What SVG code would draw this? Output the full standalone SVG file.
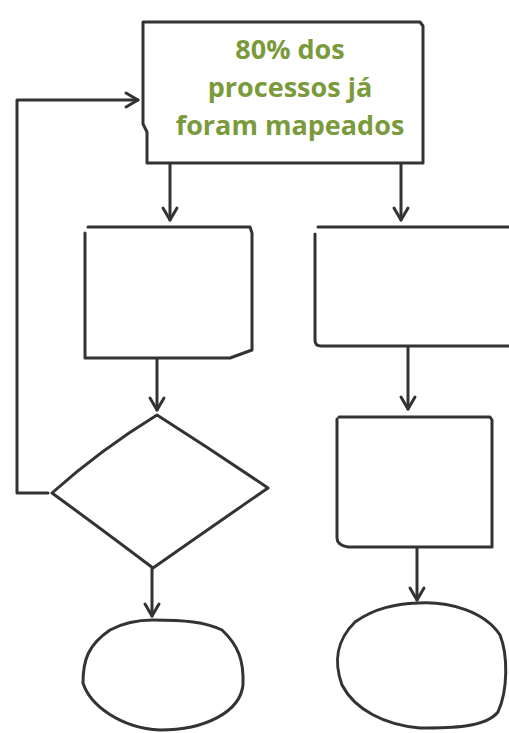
<svg xmlns="http://www.w3.org/2000/svg" width="509" height="733" viewBox="0 0 509 733">
<style>
.ln{fill:none;stroke:#333;stroke-width:3;stroke-linecap:round;stroke-linejoin:round}
.shape{fill:#fff;stroke:#333;stroke-width:3;stroke-linejoin:round;stroke-linecap:round}
.lbl{font-family:"Open Sans","Noto Sans",sans-serif;font-weight:bold;font-size:27px;fill:#7a9a3c;text-anchor:middle}
</style>
<defs>
<marker id="arr" markerUnits="userSpaceOnUse" markerWidth="20" markerHeight="20" viewBox="-14 -10 16 20" refX="0" refY="0" orient="auto">
<path d="M-12,-7 L0,0 L-12,7" fill="none" stroke="#333" stroke-width="3" stroke-linecap="round" stroke-linejoin="round"/>
</marker>
</defs>
<rect width="509" height="733" fill="#fff"/>
<g id="connectors">
<path class="ln" d="M48,493 L17,493 L17,100 L138,100" marker-end="url(#arr)"/>
<path class="ln" d="M170,164 L170,220" marker-end="url(#arr)"/>
<path class="ln" d="M401,164 L401,220" marker-end="url(#arr)"/>
<path class="ln" d="M157,359 L157,410" marker-end="url(#arr)"/>
<path class="ln" d="M408,347 L408,409" marker-end="url(#arr)"/>
<path class="ln" d="M152,569 L152,616" marker-end="url(#arr)"/>
<path class="ln" d="M417,548 L417,600" marker-end="url(#arr)"/>
</g>
<g id="node-top">
<path class="shape" d="M143,22 L420,22 L423,26 L423,163 L147,163 L147,132 L143,124 Z"/>
<text class="lbl" x="290" y="59">80% dos</text>
<text class="lbl" x="290" y="97">processos já</text>
<text class="lbl" x="290" y="135">foram mapeados</text>
</g>
<g id="node-box1">
<path class="shape" d="M88,227 L250,227 L252,233 L252,350 L230,358 L85,358 L85,233"/>
</g>
<g id="node-box2">
<path class="shape" d="M318,227 L512,227 L512,346 L321,346 Q315,346 315,340 L315,234"/>
</g>
<g id="node-diamond">
<path class="shape" d="M157,415 Q212,450 268,488 Q210,528 153,568 Q100,528 52,493 Q100,450 157,415 Z"/>
</g>
<g id="node-box3">
<path class="shape" d="M339,417 L490,417 L492,420 L492,547 L348,547 Q337,545 337,538 L337,419"/>
</g>
<g id="node-end1">
<path class="shape" d="M153,620 C185,620 205,622 222,630 C238,645 244,660 243,685 C240,712 205,730 160,730 C120,728 90,705 83,683 C83,660 88,645 110,630 C125,622 140,620 153,620 Z"/>
</g>
<g id="node-end2">
<path class="shape" d="M418,603 C450,601 485,612 500,635 C508,655 508,690 498,712 C485,728 450,728 420,728 C385,725 355,710 342,685 C333,660 337,640 355,622 C375,608 395,604 418,603 Z"/>
</g>
</svg>
